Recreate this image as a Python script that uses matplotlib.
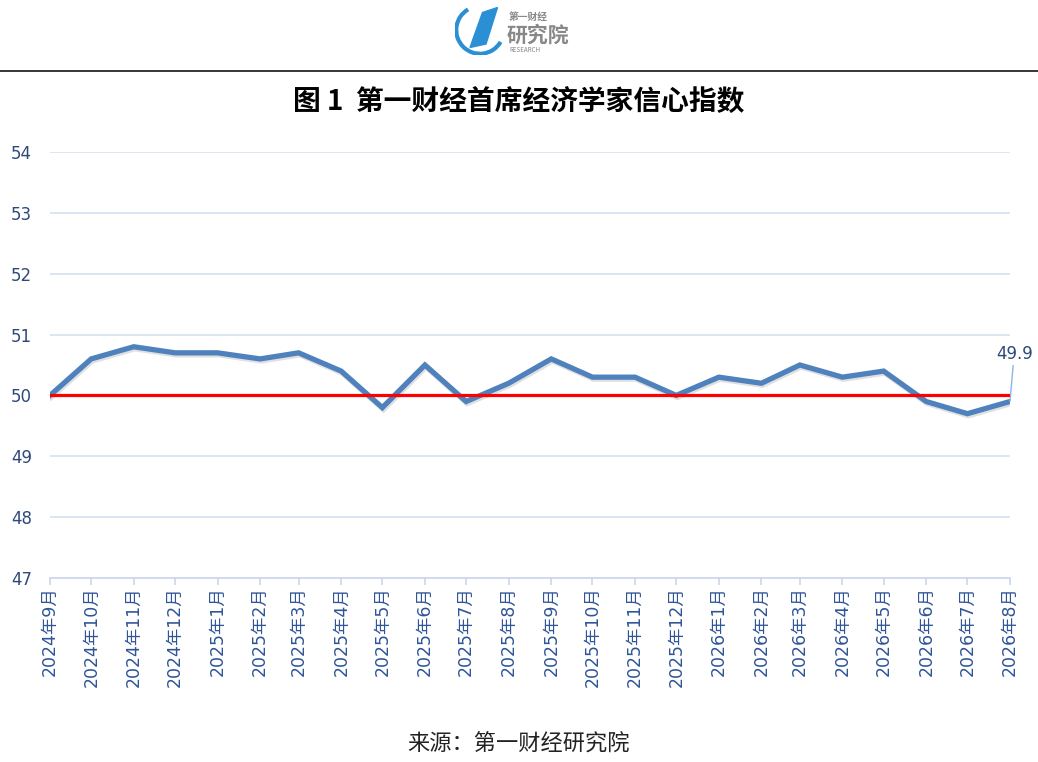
import datetime as dt
import matplotlib
matplotlib.use("Agg")
import matplotlib.pyplot as plt
import matplotlib.patheffects as pe
from matplotlib.patches import Polygon, Arc

plt.rcParams['font.family'] = ['Noto Sans CJK SC', 'DejaVu Sans']

# months on the x axis (first of each month), Sep 2024 .. Aug 2026
years = [2024] * 4 + [2025] * 12 + [2026] * 8
months = [9, 10, 11, 12] + list(range(1, 13)) + list(range(1, 9))
index_values = [50.0, 50.6, 50.8, 50.7, 50.7, 50.6, 50.7, 50.4, 49.8, 50.5,
                49.9, 50.2, 50.6, 50.3, 50.3, 50.0, 50.3, 50.2, 50.5, 50.3,
                50.4, 49.9, 49.7, 49.9]
tick_labels = [f"{y}年{m}月" for y, m in zip(years, months)]
dates = [dt.date(y, m, 1) for y, m in zip(years, months)]
baseline = 50
y_ticks = [47, 48, 49, 50, 51, 52, 53, 54]

title = "图 1  第一财经首席经济学家信心指数"
source = "来源：第一财经研究院"

tick_font = ['DejaVu Sans', 'Noto Sans CJK SC']

fig = plt.figure(figsize=(10.38, 7.62), dpi=100)
ax = fig.add_axes([50 / 1038, 1 - 578 / 762, 960 / 1038, 426 / 762])

ax.plot(dates, index_values, color="#4F81BD", lw=3.8, solid_joinstyle="miter",
        zorder=3,
        path_effects=[pe.SimpleLineShadow(offset=(0.8, -1.5), alpha=0.12, shadow_color="black"),
                      pe.Normal()])
ax.axhline(baseline, color="#FF0000", lw=2.3, zorder=4)

ax.set_xlim(dates[0], dates[-1])
ax.set_ylim(47, 54)
ax.set_yticks(y_ticks)
ax.set_yticklabels([str(v) for v in y_ticks], family=tick_font)
ax.set_xticks(dates)
ax.set_xticklabels(tick_labels, rotation=90, family=tick_font)
ax.grid(axis="y", color="#D5E1F0", lw=1.2)
ax.set_axisbelow(True)
for s in ["top", "right", "left"]:
    ax.spines[s].set_visible(False)
ax.spines["bottom"].set_color("#C9D7EA")
ax.spines["bottom"].set_linewidth(1.2)
ax.tick_params(axis="y", length=0, pad=13, labelsize=12, labelcolor="#2E4A7A")
ax.tick_params(axis="x", length=5, width=1.2, color="#C9D7EA", pad=1,
               labelsize=12.5, labelcolor="#2F5597")

# last value label with a leader line
ax.annotate(f"{index_values[-1]}", xy=(dates[-1], index_values[-1]),
            xytext=(3, 28), textcoords="offset points", ha="center", va="bottom",
            fontsize=12, color="#2E4A7A", family=tick_font,
            arrowprops=dict(arrowstyle="-", color="#8EB4E3", lw=1, shrinkA=0, shrinkB=0))

# header: logo and rule
fig.add_artist(plt.Line2D([0, 1], [1 - 71 / 762, 1 - 71 / 762], color="black", lw=1.1))
logo = fig.add_axes([455 / 1038, 1 - 55 / 762, 50 / 1038, 50 / 762])
logo.set_xlim(0, 1)
logo.set_ylim(0, 1)
logo.axis("off")
logo.add_patch(Arc((0.5, 0.5), 0.95, 0.95, theta1=120, theta2=330, color="#2B8FD6", lw=3))
logo.add_patch(Polygon([[0.3, 0.15], [0.55, 0.85], [0.85, 0.95], [0.62, 0.22]],
                       color="#2B8FD6"))
fig.text(509 / 1038, 1 - 17 / 762, "第一财经", fontsize=7, color="#888888",
         ha="left", va="center", fontweight="bold")
fig.text(507 / 1038, 1 - 35 / 762, "研究院", fontsize=15, color="#888888",
         ha="left", va="center", fontweight="bold")
fig.text(509 / 1038, 1 - 50 / 762, "RESEARCH", fontsize=4.5, color="#888888",
         ha="left", va="center")

fig.text(0.5, 1 - 103 / 762, title, fontsize=20, fontweight="bold",
         ha="center", va="center", color="black")
fig.text(0.5, 1 - 743 / 762, source, fontsize=16, fontweight="light",
         ha="center", va="center", color="#222222")

fig.savefig("out.png", dpi=100)
